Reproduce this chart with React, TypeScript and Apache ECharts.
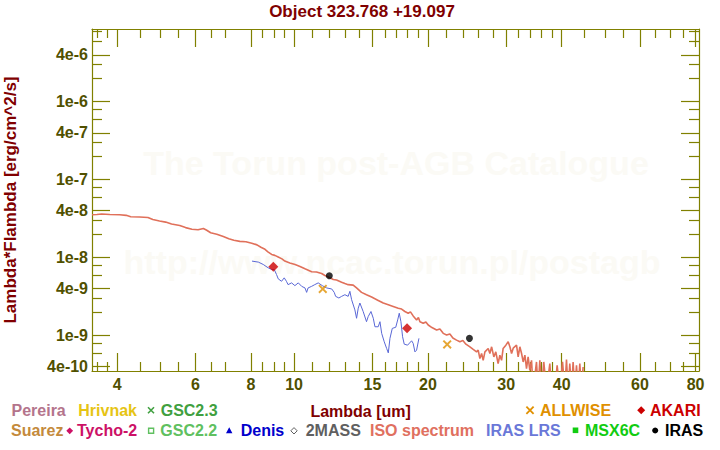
import React, { useEffect, useRef } from "react";
import * as echarts from "echarts";

const TITLE = "Object 323.768 +19.097";
const X_NAME = "Lambda [um]";
const Y_NAME = "Lambda*Flambda [erg/cm^2/s]";
const WATERMARK_1 = "The Torun post-AGB Catalogue";
const WATERMARK_2 = "http://www.ncac.torun.pl/postagb";

const X_MIN = 3.51;
const X_MAX = 81.45;
const Y_MIN = 3.52e-10;
const Y_MAX = 8.57e-6;

const xMajor = [4, 6, 8, 10, 15, 20, 30, 40, 60, 80];
const xMinor = [3.6, 3.8, 4.5, 5, 5.5, 6.5, 7, 8.5, 9, 9.5, 11, 12, 13, 14, 16, 17, 18, 19, 22, 24, 26, 28, 32, 34, 36, 38, 45, 50, 55, 65, 70, 75];
const yMajor = [4e-10, 1e-9, 4e-9, 1e-8, 4e-8, 1e-7, 4e-7, 1e-6, 4e-6];
const yMinor = [6e-10, 8e-10, 2e-9, 3e-9, 6e-9, 8e-9, 2e-8, 3e-8, 6e-8, 8e-8, 2e-7, 3e-7, 6e-7, 8e-7, 2e-6, 3e-6, 6e-6, 8e-6];

// ISO spectrum (wavelength in um, flux)
const isoLambda = [3.51, 3.60, 3.69, 3.85, 4.05, 4.19, 4.29, 4.49, 4.69, 4.81, 4.98, 5.14, 5.30, 5.53, 5.70, 5.89, 6.08, 6.25, 6.36, 6.49, 6.70, 6.93, 7.13, 7.32, 7.55, 7.79, 8.03, 8.25, 8.42, 8.60, 8.73, 8.90, 9.05, 9.21, 9.39, 9.53, 9.78, 10.05, 10.31, 10.58, 10.95, 11.23, 11.53, 11.73, 12.04, 12.25, 12.46, 12.79, 13.01, 13.23, 13.58, 13.82, 14.18, 14.55, 14.94, 15.46, 15.87, 16.29, 16.71, 17.15, 17.45, 17.75, 18.06, 18.27, 18.53, 18.86, 19.04, 19.19, 19.52, 19.79, 20.03, 20.42, 20.92, 21.28, 21.65, 22.03, 22.41, 22.76, 23.20, 23.60, 23.97, 24.35, 24.86, 25.29, 25.73, 25.95, 26.18, 26.41, 26.63, 26.87, 27.33, 27.57, 27.82, 28.14, 28.43, 28.77, 29.03, 29.29, 29.53, 29.95, 30.31, 30.58, 30.85, 31.11, 31.65, 31.92, 32.20, 32.49, 32.76, 33.05, 33.33, 33.61, 33.91, 34.21, 34.50, 35.10, 35.40, 35.71, 36.03, 36.45, 36.97, 37.61, 37.94, 38.60, 39.06, 39.61, 40.17, 40.65, 41.00, 41.34, 41.71, 42.08, 42.43, 42.81, 43.18, 43.56, 43.93, 44.32, 44.69];
const isoFlux = [3.56e-8, 3.58e-8, 3.63e-8, 3.58e-8, 3.56e-8, 3.49e-8, 3.35e-8, 3.32e-8, 3.27e-8, 3.08e-8, 2.95e-8, 2.86e-8, 2.70e-8, 2.58e-8, 2.43e-8, 2.32e-8, 2.28e-8, 2.37e-8, 2.25e-8, 2.09e-8, 2.00e-8, 1.87e-8, 1.75e-8, 1.67e-8, 1.62e-8, 1.60e-8, 1.53e-8, 1.46e-8, 1.36e-8, 1.28e-8, 1.19e-8, 1.10e-8, 1.07e-8, 1.02e-8, 9.65e-9, 9.04e-9, 8.57e-9, 8.19e-9, 7.72e-9, 7.21e-9, 6.59e-9, 6.55e-9, 6.26e-9, 5.90e-9, 5.52e-9, 5.24e-9, 5.16e-9, 4.84e-9, 4.65e-9, 4.51e-9, 4.45e-9, 4.09e-9, 3.59e-9, 3.35e-9, 3.13e-9, 2.83e-9, 2.62e-9, 2.49e-9, 2.37e-9, 2.25e-9, 2.19e-9, 2.04e-9, 1.94e-9, 2.02e-9, 1.79e-9, 1.59e-9, 1.71e-9, 1.51e-9, 1.44e-9, 1.50e-9, 1.37e-9, 1.27e-9, 1.18e-9, 1.22e-9, 1.07e-9, 1.02e-9, 1.05e-9, 9.31e-10, 8.77e-10, 8.34e-10, 8.64e-10, 7.78e-10, 7.19e-10, 6.66e-10, 6.19e-10, 6.51e-10, 5.08e-10, 5.90e-10, 4.83e-10, 6.19e-10, 6.85e-10, 5.90e-10, 7.19e-10, 5.33e-10, 6.19e-10, 4.38e-10, 5.61e-10, 4.83e-10, 6.85e-10, 7.55e-10, 8.34e-10, 7.19e-10, 5.90e-10, 6.91e-10, 7.55e-10, 5.33e-10, 7.19e-10, 5.90e-10, 4.60e-10, 5.61e-10, 3.78e-10, 5.33e-10, 3.59e-10, 4.83e-10, 2.0e-10, 4.60e-10, 2.0e-10, 4.83e-10, 2.0e-10, 4.60e-10, 2.0e-10, 4.38e-10, 2.0e-10, 2.0e-10, 4.17e-10, 2.0e-10, 4.60e-10, 2.0e-10, 4.94e-10, 2.0e-10, 4.38e-10, 2.0e-10, 4.60e-10, 2.0e-10, 4.17e-10, 2.0e-10, 4.38e-10, 2.0e-10, 3.96e-10];

// IRAS LRS spectrum
const lrsLambda = [8.04, 8.31, 8.52, 8.74, 8.90, 9.02, 9.13, 9.21, 9.37, 9.50, 9.61, 9.69, 9.87, 10.04, 10.22, 10.40, 10.58, 10.67, 10.75, 10.95, 11.13, 11.33, 11.57, 11.84, 12.15, 12.31, 12.40, 12.61, 12.79, 13.01, 13.23, 13.35, 13.47, 13.70, 13.82, 13.94, 14.06, 14.30, 14.55, 14.68, 14.89, 15.07, 15.20, 15.46, 15.60, 15.74, 15.95, 16.15, 16.29, 16.43, 16.63, 16.93, 17.10, 17.24, 17.39, 17.54, 17.69, 18.00, 18.38, 18.53, 18.70, 18.86, 19.09];
const lrsFlux = [9.04e-9, 8.77e-9, 8.19e-9, 7.42e-9, 7.06e-9, 7.06e-9, 6.08e-9, 5.35e-9, 4.98e-9, 5.51e-9, 4.98e-9, 4.51e-9, 4.75e-9, 4.38e-9, 4.75e-9, 4.29e-9, 4.09e-9, 3.59e-9, 4.09e-9, 4.29e-9, 4.51e-9, 4.75e-9, 4.38e-9, 4.09e-9, 3.97e-9, 3.59e-9, 3.19e-9, 3.04e-9, 3.19e-9, 3.35e-9, 3.19e-9, 3.70e-9, 2.89e-9, 2.14e-9, 1.67e-9, 2.25e-9, 2.62e-9, 2.04e-9, 1.51e-9, 1.76e-9, 2.04e-9, 1.67e-9, 1.30e-9, 1.30e-9, 1.51e-9, 1.07e-9, 8.34e-10, 6.85e-10, 6.01e-10, 9.23e-10, 1.24e-9, 1.28e-9, 1.59e-9, 1.94e-9, 1.51e-9, 9.68e-10, 7.78e-10, 7.55e-10, 8.59e-10, 7.95e-10, 6.19e-10, 6.51e-10, 9.23e-10];

// Photometry
const akariLambda = [8.98, 17.95];
const akariFlux = [7.65e-9, 1.24e-9];
const irasLambda = [12.0, 24.8];
const irasFlux = [5.85e-9, 9.23e-10];
const allwiseLambda = [11.6, 22.1];
const allwiseFlux = [3.97e-9, 7.72e-10];

const FONT = "'Liberation Sans', Arial, Helvetica, sans-serif";
const AXIS_COLOR = "#808000";
const LABEL_COLOR = "#505000";
const DARK_RED = "#800000";
const WATERMARK_COLOR = "#fbfaf5";
const CROSS = "path://M0,1.5 L1.5,0 L5,3.5 L8.5,0 L10,1.5 L6.5,5 L10,8.5 L8.5,10 L5,6.5 L1.5,10 L0,8.5 L3.5,5 Z";

const zip = (a: number[], b: number[]) => a.slice(0, Math.min(a.length, b.length)).map((v, i) => [v, b[i]]);

function xAxisDef(position: string, ticks: number[], len: number, line: boolean, labels: boolean) {
  return {
    type: "log",
    logBase: 10,
    min: X_MIN,
    max: X_MAX,
    position,
    gridIndex: 0,
    axisLine: { show: line, onZero: false, lineStyle: { color: AXIS_COLOR, width: 1.2 } },
    axisTick: { show: true, inside: true, length: len, customValues: ticks, lineStyle: { color: AXIS_COLOR, width: 1.2 } },
    axisLabel: labels
      ? { show: true, customValues: xMajor, formatter: (v: number) => String(Math.round(v)), color: LABEL_COLOR, fontSize: 16, fontWeight: "bold", fontFamily: FONT, margin: 5 }
      : { show: false },
    splitLine: { show: false },
    minorTick: { show: false },
    minorSplitLine: { show: false },
  };
}

function yAxisDef(position: string, ticks: number[], len: number, line: boolean, labels: boolean) {
  return {
    type: "log",
    logBase: 10,
    min: Y_MIN,
    max: Y_MAX,
    position,
    gridIndex: 0,
    axisLine: { show: line, onZero: false, lineStyle: { color: AXIS_COLOR, width: 1.2 } },
    axisTick: { show: true, inside: true, length: len, customValues: ticks, lineStyle: { color: AXIS_COLOR, width: 1.2 } },
    axisLabel: labels
      ? { show: true, customValues: yMajor, formatter: (v: number) => Number(v).toExponential(0).replace("+", ""), color: LABEL_COLOR, fontSize: 16, fontWeight: "bold", fontFamily: FONT, margin: 4 }
      : { show: false },
    splitLine: { show: false },
    minorTick: { show: false },
    minorSplitLine: { show: false },
  };
}

function txt(text: string, x: number, y: number, color: string, size: number, align = "left", extra: any = {}) {
  return {
    type: "text",
    x,
    y,
    silent: true,
    ...extra,
    style: {
      text,
      fill: color,
      font: `bold ${size}px ${FONT}`,
      align,
      textAlign: align,
      verticalAlign: "middle",
      textVerticalAlign: "middle",
    },
  };
}

function diamond(cx: number, cy: number, r: number, fill: string, stroke?: string) {
  return {
    type: "polygon",
    silent: true,
    shape: { points: [[cx, cy - r], [cx + r, cy], [cx, cy + r], [cx - r, cy]] },
    style: stroke ? { fill: "#ffffff", stroke, lineWidth: 1 } : { fill },
  };
}

function cross(cx: number, cy: number, r: number, color: string, w: number) {
  return [
    { type: "line", silent: true, shape: { x1: cx - r, y1: cy - r, x2: cx + r, y2: cy + r }, style: { stroke: color, lineWidth: w } },
    { type: "line", silent: true, shape: { x1: cx - r, y1: cy + r, x2: cx + r, y2: cy - r }, style: { stroke: color, lineWidth: w } },
  ];
}

const ROW1 = 410.8;
const ROW2 = 430.5;

const graphics: any[] = [
  txt(WATERMARK_1, 396, 163, WATERMARK_COLOR, 34, "center", { z: -10 }),
  txt(WATERMARK_2, 392, 262, WATERMARK_COLOR, 34, "center", { z: -10 }),
  txt(TITLE, 362, 11.2, DARK_RED, 17, "center"),
  txt(X_NAME, 360.6, 411, DARK_RED, 16, "center"),
  txt(Y_NAME, 10.5, 200, DARK_RED, 17, "center", { rotation: Math.PI / 2 }),
  // legend row 1
  txt("Pereira", 11.5, ROW1, "#b4748c", 16),
  txt("Hrivnak", 78.3, ROW1, "#e6c414", 16),
  ...cross(151, 410.3, 3, "#40a040", 1.6),
  txt("GSC2.3", 160.7, ROW1, "#40a040", 16),
  ...cross(530, 410.3, 3.6, "#e09000", 1.8),
  txt("ALLWISE", 540, ROW1, "#e09000", 16),
  diamond(641.2, 410.3, 4, "#cc0000"),
  txt("AKARI", 650, ROW1, "#cc0000", 16),
  // legend row 2
  txt("Suarez", 11, ROW2, "#c48a3c", 16),
  diamond(69.7, 430.8, 3.4, "#cc1166"),
  txt("Tycho-2", 77, ROW2, "#cc1166", 16),
  { type: "rect", silent: true, shape: { x: 148.6, y: 428.3, width: 5, height: 5 }, style: { fill: "#ffffff", stroke: "#60c060", lineWidth: 1.4 } },
  txt("GSC2.2", 160.3, ROW2, "#60c060", 16),
  { type: "polygon", silent: true, shape: { points: [[229.2, 427.3], [232.4, 433.3], [226, 433.3]] }, style: { fill: "#0000cc" } },
  txt("Denis", 240.7, ROW2, "#0000cc", 16),
  diamond(294, 430.8, 3.2, "#606060", "#606060"),
  txt("2MASS", 305.7, ROW2, "#606060", 16),
  txt("ISO spectrum", 370, ROW2, "#e07060", 16),
  txt("IRAS LRS", 486, ROW2, "#6a78d8", 16),
  { type: "rect", silent: true, shape: { x: 572.7, y: 427.5, width: 5.6, height: 5.6 }, style: { fill: "#11cc11" } },
  txt("MSX6C", 585, ROW2, "#11cc11", 16),
  { type: "circle", silent: true, shape: { cx: 655.2, cy: 430.5, r: 3 }, style: { fill: "#000000" } },
  txt("IRAS", 665, ROW2, "#000000", 16),
];

const option: any = {
  animation: false,
  backgroundColor: "#ffffff",
  textStyle: { fontFamily: FONT },
  grid: { left: 92, right: 21, top: 29, bottom: 79, containLabel: false },
  xAxis: [
    xAxisDef("bottom", xMajor, 18, true, true),
    xAxisDef("bottom", xMinor, 9, false, false),
    xAxisDef("top", xMajor, 18, true, false),
    xAxisDef("top", xMinor, 9, false, false),
  ],
  yAxis: [
    yAxisDef("left", yMajor, 18, true, true),
    yAxisDef("left", yMinor, 10, false, false),
    yAxisDef("right", yMajor, 18, true, false),
    yAxisDef("right", yMinor, 10, false, false),
  ],
  graphic: { elements: graphics },
  series: [
    {
      name: "IRAS LRS",
      type: "line",
      xAxisIndex: 0,
      yAxisIndex: 0,
      data: zip(lrsLambda, lrsFlux),
      showSymbol: false,
      clip: true,
      lineStyle: { color: "#5a68d6", width: 1 },
      z: 3,
    },
    {
      name: "ISO spectrum",
      type: "line",
      xAxisIndex: 0,
      yAxisIndex: 0,
      data: zip(isoLambda, isoFlux),
      showSymbol: false,
      clip: true,
      lineStyle: { color: "#e0705a", width: 1.6 },
      z: 4,
    },
    {
      name: "ALLWISE",
      type: "scatter",
      xAxisIndex: 0,
      yAxisIndex: 0,
      data: zip(allwiseLambda, allwiseFlux),
      symbol: CROSS,
      symbolSize: 9,
      itemStyle: { color: "#e09000" },
      z: 5,
    },
    {
      name: "AKARI",
      type: "scatter",
      xAxisIndex: 0,
      yAxisIndex: 0,
      data: zip(akariLambda, akariFlux),
      symbol: "diamond",
      symbolSize: [10, 10],
      itemStyle: { color: "#cc0000" },
      z: 5,
    },
    {
      name: "IRAS",
      type: "scatter",
      xAxisIndex: 0,
      yAxisIndex: 0,
      data: zip(irasLambda, irasFlux),
      symbol: "circle",
      symbolSize: 7,
      itemStyle: { color: "#000000" },
      z: 5,
    },
  ],
};

export default function App() {
  const ref = useRef<HTMLDivElement>(null);
  useEffect(() => {
    document.body.style.margin = "0";
    document.body.style.overflow = "hidden";
    const chart = echarts.init(ref.current!, null, { renderer: "svg" });
    chart.setOption(option);
    return () => chart.dispose();
  }, []);
  return <div ref={ref} style={{ width: 720, height: 450 }} />;
}
